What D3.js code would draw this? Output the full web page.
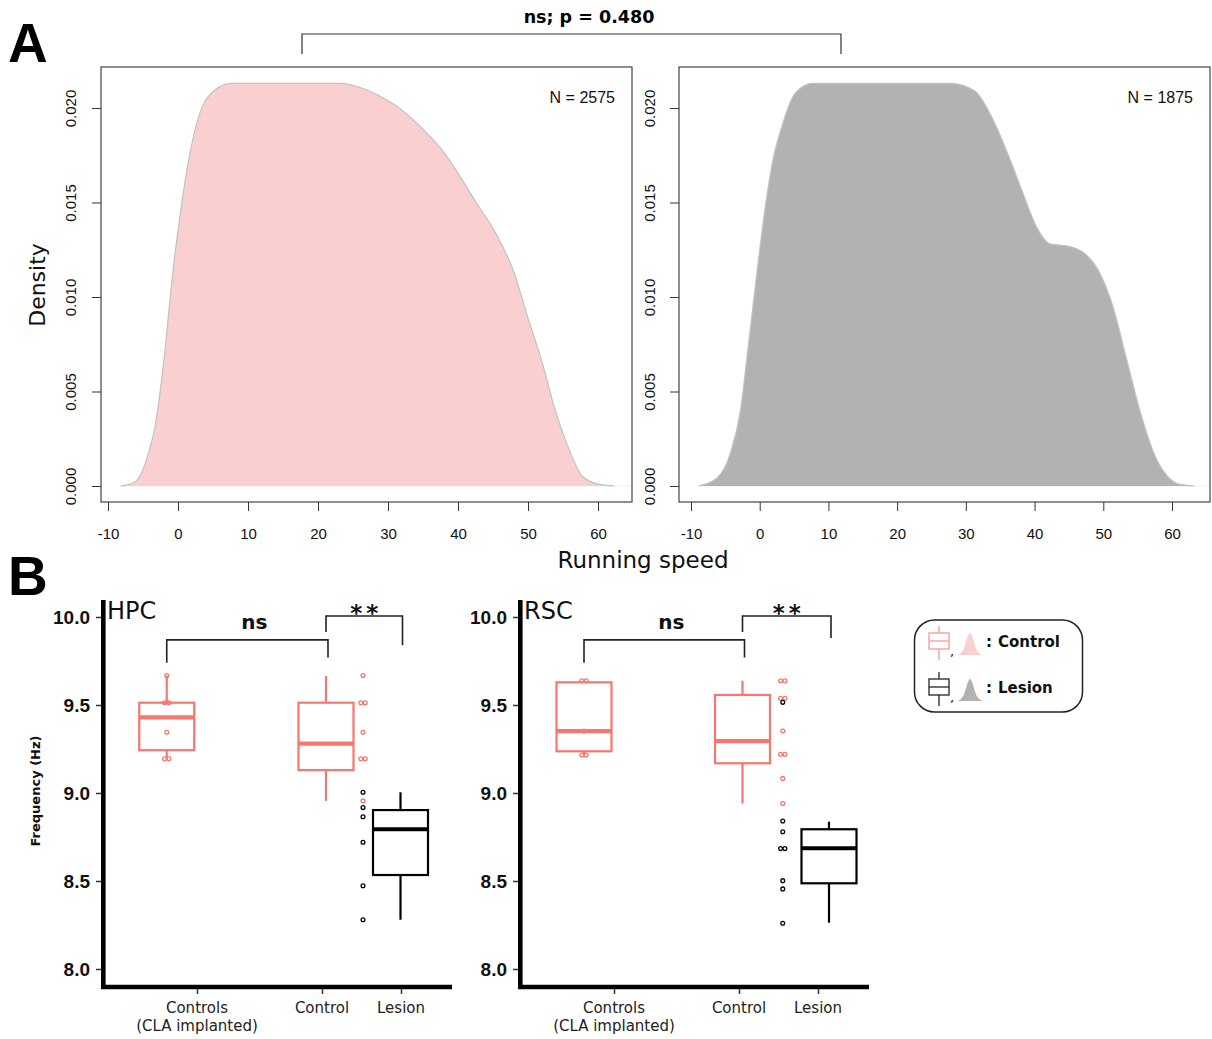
<!DOCTYPE html>
<html><head><meta charset="utf-8">
<script src="https://cdn.jsdelivr.net/npm/d3@7"></script>
<style>body{margin:0;background:#fff}svg{display:block}</style>
</head><body>
<svg id="c" width="1212" height="1039"></svg>
<script>
// ---------------- DATA ----------------
// Panel A: density of running speed
const speedTicks = [-10, 0, 10, 20, 30, 40, 50, 60];
const densityTicks = [0, 0.005, 0.010, 0.015, 0.020];
const controlSpeed   = [-8.2,-6.2,-4.2,-3.3,-2.0,-0.8,0.4,1.7,3.1,5.1,7.6,23.3,27.3,31.2,35.2,38.1,40.6,42.6,45.5,48.0,49.9,51.9,53.9,55.9,57.8,60.0,62.3];
const controlDensity = [0,0.0002,0.00175,0.0031,0.0067,0.0111,0.0146,0.0176,0.0197,0.0209,0.0213,0.0213,0.0209,0.0201,0.0188,0.0176,0.0162,0.0150,0.0133,0.0113,0.0090,0.0067,0.0040,0.0019,0.0005,0.0001,0];
const lesionSpeed    = [-8.9,-6.3,-4.3,-2.8,-1.6,-0.3,0.9,1.9,3.2,5.2,7.7,27.8,31.3,33.8,36.3,38.3,40.3,42.3,44.8,47.3,49.3,51.4,53.4,55.4,57.4,59.4,61.0,63.2];
const lesionDensity  = [0,0.0004,0.0017,0.0040,0.0076,0.0116,0.0150,0.0172,0.0190,0.0208,0.0213,0.0213,0.0209,0.0195,0.0174,0.0155,0.0137,0.0128,0.0127,0.0123,0.0114,0.0095,0.0067,0.0039,0.0017,0.0005,0.0001,0];
const nLabels = ["N = 2575", "N = 1875"];
const topTestLabel = "ns; p = 0.480";

// Panel B: theta frequency
const groupLabels = [["Controls", "(CLA implanted)"], ["Control"], ["Lesion"]];
const freqTicks = [8.0, 8.5, 9.0, 9.5, 10.0];
// box stats: [lower whisker, Q1, median, Q3, upper whisker]
const hpcControlsBox = [9.197, 9.243, 9.43, 9.513, 9.667];
const hpcControlBox  = [8.955, 9.13, 9.28, 9.513, 9.665];
const hpcLesionBox   = [8.28, 8.534, 8.794, 8.903, 9.004];
const hpcControlsPts = [9.667, 9.513, 9.513, 9.345, 9.195, 9.195];
const hpcControlPts  = [9.667, 9.513, 9.513, 9.345, 9.195, 9.195, 8.955];
const hpcLesionPts   = [9.004, 8.917, 8.865, 8.72, 8.473, 8.28];

const rscControlsBox = [9.216, 9.237, 9.352, 9.629, 9.638];
const rscControlBox  = [8.94, 9.169, 9.295, 9.557, 9.638];
const rscLesionBox   = [8.263, 8.487, 8.686, 8.794, 8.837];
const rscControlsPts = [9.638, 9.638, 9.352, 9.216, 9.216];
const rscControlPts  = [9.638, 9.638, 9.538, 9.538, 9.352, 9.22, 9.22, 9.083, 8.94];
const rscLesionPts   = [9.515, 8.841, 8.78, 8.684, 8.684, 8.502, 8.455, 8.26];

const sigLabels = ["ns", "**"];
const legendLabels = ["Control", "Lesion"];
const legendBellShape = [0, 0.03, 0.12, 0.35, 0.75, 1, 0.75, 0.35, 0.12, 0.03, 0];

// ---------------- DRAW ----------------
const svg = d3.select("#c");
const PINK_FILL = "#f9d0cf", GREY_FILL = "#b2b2b2", SALMON = "#f8766d";
const SANS_A = "'Liberation Sans', Arial, sans-serif";
const SANS_B = "'DejaVu Sans', Verdana, sans-serif";

// Panel letters
svg.append("text").attr("x", 8).attr("y", 62).text("A")
  .attr("font-family", SANS_A).attr("font-weight", "bold").attr("font-size", 55);
svg.append("text").attr("x", 8).attr("y", 595).text("B")
  .attr("font-family", SANS_A).attr("font-weight", "bold").attr("font-size", 55);

// ---- Panel A ----
const aTop = 67, aBot = 502;
const yA = d3.scaleLinear().domain([0, 0.02]).range([486, 108]);
const panelsA = [
  {left: 101, right: 632, r0: 108, r1: 598, sp: controlSpeed, de: controlDensity, fill: PINK_FILL, n: nLabels[0], labX: 71},
  {left: 679, right: 1210, r0: 691, r1: 1172, sp: lesionSpeed, de: lesionDensity, fill: GREY_FILL, n: nLabels[1], labX: 650}
];
panelsA.forEach(p => {
  const x = d3.scaleLinear().domain([-10, 60]).range([p.r0, p.r1]);
  const g = svg.append("g");
  const data = p.sp.map((s, i) => [s, p.de[i]]);
  g.append("line").attr("x1", x(p.sp[0])).attr("x2", p.right - 1)
    .attr("y1", yA(0)).attr("y2", yA(0)).attr("stroke", "#eeeeee").attr("stroke-width", 1);
  g.append("path").datum(data)
    .attr("d", d3.area().x(d => x(d[0])).y0(yA(0)).y1(d => yA(d[1])).curve(d3.curveMonotoneX))
    .attr("fill", p.fill);
  g.append("path").datum(data)
    .attr("d", d3.line().x(d => x(d[0])).y(d => yA(d[1])).curve(d3.curveMonotoneX))
    .attr("fill", "none").attr("stroke", "#c2c2c2").attr("stroke-width", 1.2);
  g.append("rect").attr("x", p.left).attr("y", aTop).attr("width", p.right - p.left).attr("height", aBot - aTop)
    .attr("fill", "none").attr("stroke", "#333").attr("stroke-width", 1.1);
  const xa = g.append("g").attr("transform", `translate(0,${aBot})`)
    .call(d3.axisBottom(x).tickValues(speedTicks).tickSize(9).tickPadding(17).tickFormat(d => String(d)));
  xa.select(".domain").remove();
  xa.selectAll("line").attr("stroke", "#333");
  xa.selectAll("text").attr("font-family", SANS_A).attr("font-size", 15).attr("fill", "#111");
  const ya = g.append("g").attr("transform", `translate(${p.left},0)`)
    .call(d3.axisLeft(yA).tickValues(densityTicks).tickSize(9).tickFormat(d3.format(".3f")));
  ya.select(".domain").remove();
  ya.selectAll("line").attr("stroke", "#333");
  ya.selectAll("text").attr("x", null).attr("dy", "0.35em")
    .attr("transform", `translate(${p.labX - p.left},0) rotate(-90)`).attr("text-anchor", "middle")
    .attr("font-family", SANS_A).attr("font-size", 15).attr("fill", "#111");
  g.append("text").attr("x", p.right - 17).attr("y", 103).attr("text-anchor", "end").text(p.n)
    .attr("font-family", SANS_A).attr("font-size", 16).attr("fill", "#111");
});
// significance bracket between A panels
svg.append("path").attr("d", "M302,54 V34 H841 V54").attr("fill", "none")
  .attr("stroke", "#333").attr("stroke-width", 1.2);
svg.append("text").attr("x", 589).attr("y", 23).attr("text-anchor", "middle").text(topTestLabel)
  .attr("font-family", SANS_B).attr("font-weight", "bold").attr("font-size", 17.5);
svg.append("text").attr("transform", "translate(37,285) rotate(-90)").attr("dy", "0.35em")
  .attr("text-anchor", "middle").text("Density")
  .attr("font-family", SANS_B).attr("font-size", 22).attr("fill", "#111");
svg.append("text").attr("x", 643).attr("y", 560).attr("dy", "0.35em")
  .attr("text-anchor", "middle").text("Running speed")
  .attr("font-family", SANS_B).attr("font-size", 23).attr("fill", "#111");

// ---- Panel B ----
const yB = d3.scaleLinear().domain([8, 10]).range([969, 617]);
const tickPos = [1, 2, 2.632];
const panelsB = [
  {origin: 101, title: "HPC", boxes: [hpcControlsBox, hpcControlBox, hpcLesionBox], boxPos: [0.758, 2.032, 2.628], strip: 2.328,
   ptsControls: hpcControlsPts, ptsControl: hpcControlPts, ptsLesion: hpcLesionPts, starEnd: 9.84, ylabel: true},
  {origin: 518, title: "RSC", boxes: [rscControlsBox, rscControlBox, rscLesionBox], boxPos: [0.76, 2.028, 2.72], strip: 2.35,
   ptsControls: rscControlsPts, ptsControl: rscControlPts, ptsLesion: rscLesionPts, starEnd: 9.88, ylabel: false}
];
const boxW = 55;
function drawPts(g, vals, cx, color) {
  const counts = {};
  vals.forEach(v => counts[v] = (counts[v] || 0) + 1);
  const seen = {};
  vals.forEach(v => {
    const k = seen[v] = (seen[v] || 0) + 1;
    const off = counts[v] > 1 ? (k - (counts[v] + 1) / 2) * 4.4 : 0;
    g.append("circle").attr("cx", cx + off).attr("cy", yB(v)).attr("r", 1.9)
      .attr("fill", "none").attr("stroke", color).attr("stroke-width", 1.3);
  });
}
panelsB.forEach(p => {
  const x = d3.scaleLinear().domain([1, 2]).range([p.origin + 96, p.origin + 221]);
  const g = svg.append("g");
  g.append("path").attr("d", `M${p.origin + 2.3},600 V987 H${p.origin + 351}`)
    .attr("fill", "none").attr("stroke", "#000").attr("stroke-width", 4.6);
  const ya = g.append("g").attr("transform", `translate(${p.origin},0)`)
    .call(d3.axisLeft(yB).tickValues(freqTicks).tickSize(5).tickPadding(6).tickFormat(d3.format(".1f")));
  ya.select(".domain").remove();
  ya.selectAll("line").attr("stroke", "#333").attr("stroke-width", 1.5);
  ya.selectAll("text").attr("font-family", SANS_A).attr("font-weight", "bold")
    .attr("font-size", 19).attr("fill", "#111");
  const xa = g.append("g").attr("transform", `translate(0,989)`)
    .call(d3.axisBottom(x).tickValues(tickPos).tickSize(5).tickFormat(""));
  xa.select(".domain").remove();
  xa.selectAll("line").attr("stroke", "#333").attr("stroke-width", 1.5);
  tickPos.forEach((t, i) => {
    groupLabels[i].forEach((line, j) => {
      g.append("text").attr("x", x(t)).attr("y", 1013 + j * 18).attr("text-anchor", "middle").text(line)
        .attr("font-family", SANS_B).attr("font-size", 15).attr("fill", "#222");
    });
  });
  g.append("text").attr("x", p.origin + 6).attr("y", 619).text(p.title)
    .attr("font-family", SANS_B).attr("font-size", 24).attr("fill", "#111");
  p.boxes.forEach((b, i) => {
    const cx = x(p.boxPos[i]);
    const col = i === 2 ? "#000" : SALMON;
    g.append("line").attr("x1", cx).attr("x2", cx).attr("y1", yB(b[0])).attr("y2", yB(b[1]))
      .attr("stroke", col).attr("stroke-width", 2.2);
    g.append("line").attr("x1", cx).attr("x2", cx).attr("y1", yB(b[3])).attr("y2", yB(b[4]))
      .attr("stroke", col).attr("stroke-width", 2.2);
    g.append("rect").attr("x", cx - boxW / 2).attr("width", boxW).attr("y", yB(b[3])).attr("height", yB(b[1]) - yB(b[3]))
      .attr("fill", "none").attr("stroke", col).attr("stroke-width", 2.2);
    g.append("line").attr("x1", cx - boxW / 2).attr("x2", cx + boxW / 2).attr("y1", yB(b[2])).attr("y2", yB(b[2]))
      .attr("stroke", col).attr("stroke-width", 4.2);
  });
  drawPts(g, p.ptsControls, x(p.boxPos[0]), SALMON);
  drawPts(g, p.ptsControl, x(p.strip), SALMON);
  drawPts(g, p.ptsLesion, x(p.strip), "#000");
  const bx0 = x(p.boxPos[0]), bx1 = x(p.boxPos[1]), bx2 = x(p.boxPos[2]);
  g.append("path").attr("d", `M${bx0},${yB(9.74)} V${yB(9.87)} H${bx1 + 2} V${yB(9.77)}`)
    .attr("fill", "none").attr("stroke", "#222").attr("stroke-width", 1.6);
  g.append("text").attr("x", (bx0 + bx1) / 2 + 8).attr("y", 629).attr("text-anchor", "middle").text(sigLabels[0])
    .attr("font-family", SANS_B).attr("font-weight", "bold").attr("font-size", 20).attr("fill", "#111");
  g.append("path").attr("d", `M${bx1},${yB(9.915)} V${yB(10.006)} H${bx2 + 2} V${yB(p.starEnd)}`)
    .attr("fill", "none").attr("stroke", "#222").attr("stroke-width", 1.6);
  g.append("text").attr("x", (bx1 + bx2) / 2 + 3).attr("y", 621).attr("text-anchor", "middle").text(sigLabels[1])
    .attr("letter-spacing", 4)
    .attr("font-family", SANS_B).attr("font-weight", "bold").attr("font-size", 23).attr("fill", "#111");
  if (p.ylabel) {
    g.append("text").attr("transform", "translate(35,791) rotate(-90)").attr("dy", "0.35em")
      .attr("text-anchor", "middle").text("Frequency (Hz)")
      .attr("font-family", SANS_B).attr("font-weight", "bold").attr("font-size", 13).attr("fill", "#111");
  }
});

// ---- Legend ----
{
  const g = svg.append("g");
  g.append("rect").attr("x", 914.5).attr("y", 620).attr("width", 168).attr("height", 92).attr("rx", 20)
    .attr("fill", "#fff").attr("stroke", "#222").attr("stroke-width", 1.5);
  const rows = [
    {cy: 641, box: "#f6a29c", bell: PINK_FILL, label: legendLabels[0]},
    {cy: 687, box: "#333", bell: GREY_FILL, label: legendLabels[1]}
  ];
  const bx = d3.scaleLinear().domain([0, legendBellShape.length - 1]).range([957, 983]);
  rows.forEach(r => {
    const cx = 939;
    g.append("line").attr("x1", cx).attr("x2", cx).attr("y1", r.cy - 15).attr("y2", r.cy + 19).attr("stroke", r.box).attr("stroke-width", 1.4);
    g.append("rect").attr("x", cx - 10).attr("y", r.cy - 8).attr("width", 20).attr("height", 16)
      .attr("fill", "#fff").attr("stroke", r.box).attr("stroke-width", 1.4);
    g.append("line").attr("x1", cx - 10).attr("x2", cx + 10).attr("y1", r.cy).attr("y2", r.cy).attr("stroke", r.box).attr("stroke-width", 1.4);
    g.append("text").attr("x", 950).attr("y", r.cy + 15).text(",")
      .attr("font-family", SANS_B).attr("font-size", 13).attr("fill", "#111");
    const by = d3.scaleLinear().domain([0, 1]).range([r.cy + 14, r.cy - 10]);
    g.append("path").datum(legendBellShape)
      .attr("d", d3.area().x((d, i) => bx(i)).y0(by(0)).y1(d => by(d)).curve(d3.curveBasis))
      .attr("fill", r.bell);
    g.append("text").attr("x", 986).attr("y", r.cy + 6).text(":")
      .attr("font-family", SANS_B).attr("font-weight", "bold").attr("font-size", 15).attr("fill", "#111");
    g.append("text").attr("x", 998).attr("y", r.cy + 6).text(r.label)
      .attr("font-family", SANS_B).attr("font-weight", "bold").attr("font-size", 15).attr("fill", "#111");
  });
}
</script>
</body></html>
